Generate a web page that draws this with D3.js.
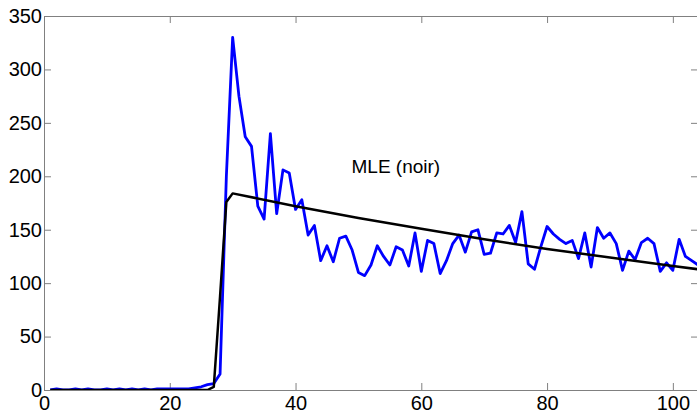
<!DOCTYPE html>
<html>
<head>
<meta charset="utf-8">
<script src="https://cdn.jsdelivr.net/npm/d3@7"></script>
<style>
  body { margin: 0; background: #fff; }
  svg { display: block; font-family: "Liberation Sans", Arial, sans-serif; }
</style>
</head>
<body>
<script>
// observed counts, one value per step (x = 1..104)
const counts = [
  0, 1, 0, 0, 1, 0, 1, 0, 0, 1,
  0, 1, 0, 1, 0, 1, 0, 1, 1, 1,
  1, 1, 1, 2, 3, 5, 6, 15, 200, 330,
  275, 237, 228, 172, 160, 240, 165, 206, 203, 169,
  178, 145, 154, 121, 135, 120, 142, 144, 131, 110,
  107, 117, 135, 125, 117, 134, 131, 116, 147, 111,
  140, 137, 109, 121, 137, 145, 129, 148, 150, 127,
  128, 147, 146, 154, 138, 167, 118, 113, 134, 153,
  146, 141, 137, 140, 123, 147, 115, 152, 142, 147,
  137, 112, 130, 122, 138, 142, 137, 111, 119, 112,
  141, 125, 121, 117
];
const steps = d3.range(1, counts.length + 1);

// MLE fit (black curve)
const mleX = [1, 26, 27, 28, 29, 30, 40, 50, 60, 70, 80, 90, 100, 104];
const mleY = [0, 0, 3, 88, 176, 184, 172, 161, 151, 141, 132, 124, 116, 113];

const xTicks = [0, 20, 40, 60, 80, 100];
const yTicks = [0, 50, 100, 150, 200, 250, 300, 350];
const label = 'MLE (noir)';

const W = 697, H = 411;
const m = { left: 44, top: 16, right: 698, bottom: 390 };

const svg = d3.select('body').append('svg')
    .attr('width', W)
    .attr('height', H);

const x = d3.scaleLinear().domain([0, 104]).range([m.left, m.right]);
const y = d3.scaleLinear().domain([0, 350]).range([m.bottom, m.top]);

svg.append('clipPath').attr('id', 'plot')
  .append('rect')
    .attr('x', m.left).attr('y', m.top)
    .attr('width', m.right - m.left).attr('height', m.bottom - m.top);

const axisColor = '#808080';
const tick = 7;

function styleAxis(g, showText) {
    g.selectAll('path.domain').attr('stroke', axisColor);
    g.selectAll('.tick line').attr('stroke', axisColor);
    g.selectAll('.tick text')
        .attr('fill', '#000')
        .style('font-size', '20px')
        .style('display', showText ? null : 'none');
}

svg.append('g')
    .attr('transform', `translate(0,${m.bottom})`)
    .call(d3.axisBottom(x).tickValues(xTicks).tickSize(-tick).tickSizeOuter(0).tickPadding(6))
    .call(g => styleAxis(g, true));

svg.append('g')
    .attr('transform', `translate(0,${m.top})`)
    .call(d3.axisTop(x).tickValues(xTicks).tickSize(-tick).tickSizeOuter(0))
    .call(g => styleAxis(g, false));

svg.append('g')
    .attr('transform', `translate(${m.left},0)`)
    .call(d3.axisLeft(y).tickValues(yTicks).tickSize(-tick).tickSizeOuter(0).tickPadding(2))
    .call(g => styleAxis(g, true));

svg.append('g')
    .attr('transform', `translate(${m.right},0)`)
    .call(d3.axisRight(y).tickValues(yTicks).tickSize(-tick).tickSizeOuter(0))
    .call(g => styleAxis(g, false));

const line = d3.line()
    .x(d => x(d[0]))
    .y(d => y(d[1]));

svg.append('path')
    .datum(steps.map((s, i) => [s, counts[i]]))
    .attr('clip-path', 'url(#plot)')
    .attr('fill', 'none')
    .attr('stroke', '#0000ff')
    .attr('stroke-width', 2.8)
    .attr('stroke-linejoin', 'round')
    .attr('d', line);

svg.append('path')
    .datum(mleX.map((s, i) => [s, mleY[i]]))
    .attr('clip-path', 'url(#plot)')
    .attr('fill', 'none')
    .attr('stroke', '#000')
    .attr('stroke-width', 2.5)
    .attr('stroke-linejoin', 'round')
    .attr('d', line);

svg.append('text')
    .attr('x', x(48.9))
    .attr('y', y(203))
    .style('font-size', '19px')
    .text(label);
</script>
</body>
</html>
